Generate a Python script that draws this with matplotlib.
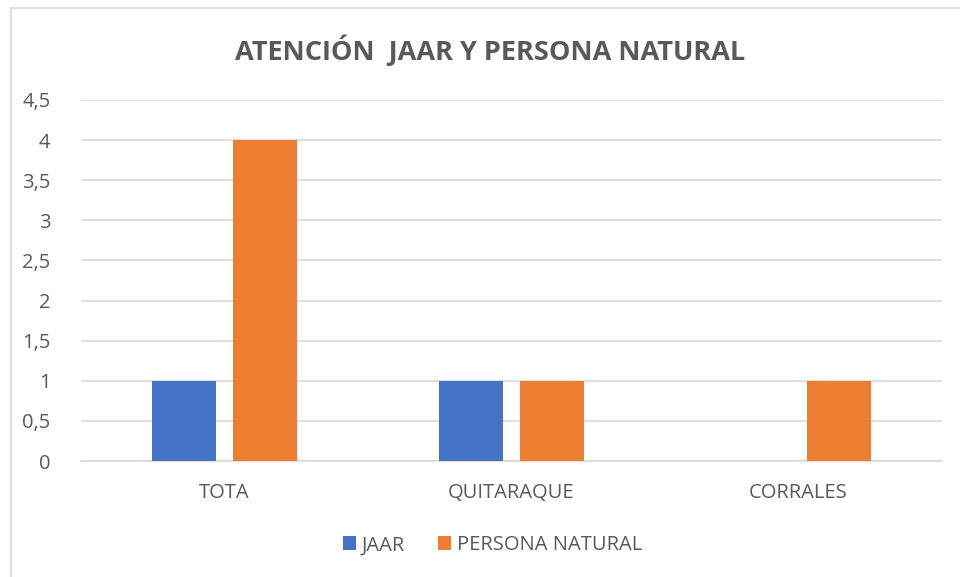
import matplotlib.pyplot as plt
import numpy as np
from matplotlib.lines import Line2D

# data
categories = ['TOTA', 'QUITARAQUE', 'CORRALES']
jaar = [1, 1, 0]
persona_natural = [4, 1, 1]
yticks = [0, 0.5, 1, 1.5, 2, 2.5, 3, 3.5, 4, 4.5]
ytick_labels = ['0', '0,5', '1', '1,5', '2', '2,5', '3', '3,5', '4', '4,5']

plt.rcParams['font.family'] = ['Open Sans', 'DejaVu Sans']
text_color = '#595959'

fig = plt.figure(figsize=(9.6, 5.77), dpi=100)
ax = fig.add_axes([0.0844, 0.201, 0.8969, 0.6257])

x = np.arange(len(categories))
width = 0.223
offset = 0.141
ax.bar(x - offset, jaar, width, color='#4472C4', label='JAAR', zorder=3)
ax.bar(x + offset, persona_natural, width, color='#ED7D31', label='PERSONA NATURAL', zorder=3)

ax.set_xlim(-0.5, 2.5)
ax.set_ylim(0, 4.5)
ax.set_yticks(yticks)
ax.set_yticklabels(ytick_labels)
ax.set_xticks(x)
ax.set_xticklabels(categories)
ax.yaxis.grid(True, color='#d9d9d9', linewidth=1.2, zorder=0)
ax.tick_params(axis='both', length=0, labelsize=14.5, colors=text_color)
ax.tick_params(axis='y', pad=22)
ax.tick_params(axis='x', pad=16)
for s in ['top', 'right', 'left']:
    ax.spines[s].set_visible(False)
ax.spines['bottom'].set_color('#d9d9d9')
ax.spines['bottom'].set_linewidth(1.2)

fig.text(0.511, 0.913, 'ATENCIÓN  JAAR Y PERSONA NATURAL', ha='center', va='center',
         fontsize=19.5, fontweight='bold', color=text_color)

leg = fig.legend(loc='center', bbox_to_anchor=(0.513, 0.055), ncol=2, frameon=False,
                 fontsize=14.5, handlelength=0.65, handleheight=0.65, handletextpad=0.3,
                 columnspacing=1.6)
for t in leg.get_texts():
    t.set_color(text_color)

# chart border (only top and left edges visible in the crop)
fig.add_artist(Line2D([11/960, 1], [1 - 8/577, 1 - 8/577], color='#d9d9d9', linewidth=1.2))
fig.add_artist(Line2D([11/960, 11/960], [0, 1 - 8/577], color='#d9d9d9', linewidth=1.2))

fig.savefig('out.png', dpi=100)
